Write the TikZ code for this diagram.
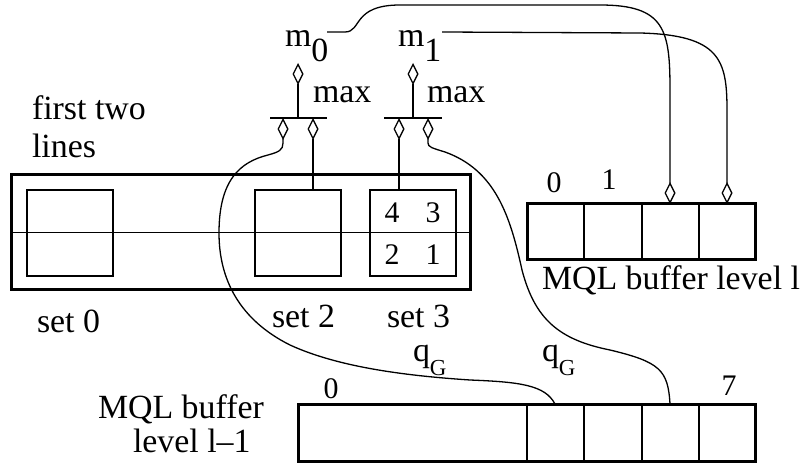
\documentclass[tikz,border=0pt]{standalone}
\usepackage{fontspec}
\setmainfont{Liberation Serif}
\usetikzlibrary{arrows.meta}
\begin{document}
\begin{tikzpicture}[x=1bp,y=-1bp,
  every node/.style={inner sep=0pt,outer sep=0pt,font=\fontsize{34}{38}\selectfont},
  lbl/.style={anchor=base west},
  num/.style={anchor=base,font=\fontsize{30}{34}\selectfont},
  wire/.style={line width=1.3bp},
  heavy/.style={draw,line width=3bp},
  cellbox/.style={draw,line width=1.5bp,minimum width=86bp,minimum height=86bp},
  dia/.style={wire,-{Diamond[open,length=22bp,width=11bp]}},
]
\useasboundingbox (0,0) rectangle (805,465);

% cache: first two lines
\node[heavy,minimum width=458bp,minimum height=115bp] (cache) at (241,232.5) {};
\node[cellbox] (c0) at (70,233) {};
\node[cellbox] (c2) at (298,233) {};
\node[cellbox] (c3) at (413,233) {};
\draw[wire] (cache.west) -- (cache.east);
\node[num] (n4) at (392,223) {4};
\node[num] (n3) at (433,223) {3};
\node[num] (n2) at (392,265) {2};
\node[num] (n1) at (433,265) {1};

% labels
\node[lbl] (first) at (32,120) {first two};
\node[lbl] (lines) at (32,158) {lines};
\node[lbl] (set0) at (37,333) {set 0};
\node[lbl] (set2) at (272,328) {set 2};
\node[lbl] (set3) at (387,328) {set 3};

% max bars
\coordinate (b1l) at (270,118); \coordinate (b1r) at (327,118);
\coordinate (b2l) at (384,118); \coordinate (b2r) at (442,118);
\draw[line width=1.5bp] (b1l) -- (b1r);
\draw[line width=1.5bp] (b2l) -- (b2r);
\node[lbl] (max1) at (313,103) {max};
\node[lbl] (max2) at (427,103) {max};
\node[lbl] (m0) at (285,47) {m\raisebox{-15bp}{0}};
\node[lbl] (m1) at (398,47) {m\raisebox{-15bp}{1}};
\coordinate (o1) at (298,118); \coordinate (o1t) at (298,63);
\coordinate (o2) at (413,118); \coordinate (o2t) at (413,63);
\draw[dia] (o1) -- (o1t);
\draw[dia] (o2) -- (o2t);

% inputs from sets
\draw[dia] (c2.north -| 313,0) -- (313,118);
\draw[dia] (c3.north -| 399,0) -- (399,118);

% buffer level l
\node[heavy,minimum width=228bp,minimum height=56bp] (bufl) at (641,232) {};
\foreach \x in {584,642,699} \draw[wire] (bufl.north -| \x,0) -- (bufl.south -| \x,0);
\node[num] (bl0) at (554,193) {0};
\node[num] (bl1) at (609,190) {1};
\node[lbl] (mql) at (542,290) {MQL buffer level l};

% buffer level l-1
\node[heavy,minimum width=457bp,minimum height=57bp] (bufm) at (526.5,432.5) {};
\foreach \x in {527,584,642,699} \draw[wire] (bufm.north -| \x,0) -- (bufm.south -| \x,0);
\node[num] (bm0) at (331,398) {0};
\node[num] (bm7) at (729,395) {7};
\node[lbl] (mqa) at (98,418) {MQL buffer};
\node[lbl] (mqb) at (133,452) {level l–1};
\node[lbl] (q1) at (413,362) {q\raisebox{-14bp}{\fontsize{23}{23}\selectfont G}};
\node[lbl] (q2) at (542,362) {q\raisebox{-14bp}{\fontsize{23}{23}\selectfont G}};

% q_G curves into the max units
\draw[dia] (bufm.north -| 555,0) .. controls (545,385) and (520,382) .. (470,380)
  .. controls (410,376) and (340,368) .. (290,345)
  .. controls (240,320) and (219,280) .. (219,233)
  .. controls (219,180) and (240,162) .. (268,155)
  .. controls (279,152) and (283,150) .. (283,143) -- (283,118);
\draw[dia] (bufm.north -| 670,0) .. controls (668,370) and (660,362) .. (610,350)
  .. controls (560,340) and (535,320) .. (522,270)
  .. controls (510,215) and (495,170) .. (445,152)
  .. controls (432,148) and (428,147) .. (428,143) -- (428,118);

% results to buffer level l
\draw[dia] (327,32) -- (345,32) .. controls (362,32) and (352,5) .. (400,5)
  -- (600,5) .. controls (665,5) and (670,30) .. (670,90) -- (bufl.north -| 670,0);
\draw[dia] (442,32) -- (640,33) .. controls (720,35) and (727,60) .. (727,110)
  -- (bufl.north -| 727,0);
\end{tikzpicture}
\end{document}
